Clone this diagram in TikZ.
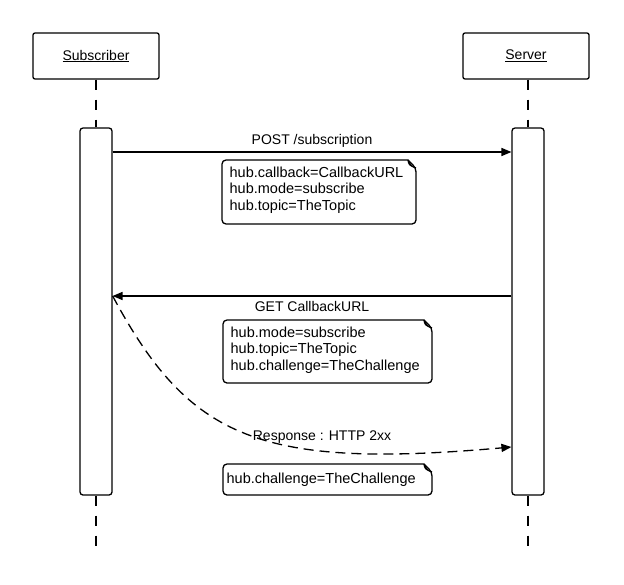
\documentclass[tikz,border=0pt]{standalone}
\usepackage{fontspec}
\setmainfont{Liberation Sans}
\usetikzlibrary{arrows,calc}
\tikzset{
  every path/.style={line width=1.3pt},
  actor/.style={draw,rounded corners=2pt,minimum width=126pt,minimum height=46pt,font=\fontsize{14}{16}\selectfont},
  bar/.style={draw,rounded corners=3pt,minimum width=32pt,minimum height=367pt},
  life/.style={dash pattern=on 10pt off 10pt},
  msg/.style={-triangle 45},
  txt/.style={font=\fontsize{14}{16}\selectfont},
  notetxt/.style={font=\fontsize{14.5}{16.5}\selectfont,align=left,anchor=north west,inner sep=0pt}
}
\newcommand{\notebox}[4]{% x1,y1,x2,y2
  \draw[rounded corners=4pt] (#1,#2) -- (#1,#4) -- (#3,#4) -- (#3,#2+8) [sharp corners] -- (#3-8,#2) [rounded corners=4pt] -- cycle;
  \filldraw[fill=gray!40] (#3-8,#2) .. controls (#3-7,#2+5) .. (#3,#2+8) .. controls (#3-5,#2+6) .. (#3-8,#2);
}
\begin{document}
\begin{tikzpicture}[x=1pt,y=-1pt]
\useasboundingbox (0,0) rectangle (624,584);
\node[actor] (sub) at (96,56) {\underline{Subscriber}};
\node[actor] (srv) at (526,56) {\underline{Server}};
\node[bar] (subbar) at (96,311.5) {};
\node[bar] (srvbar) at (528,311.5) {};
\coordinate (subend) at (96,550);
\coordinate (srvend) at (528,550);
\draw[life] (sub.south) -- (subbar.north);
\draw[life] (srv.south -| srvbar.north) -- (srvbar.north);
\draw[life] (subbar.south) -- (subend);
\draw[life] (srvbar.south) -- (srvend);
% messages
\draw[msg] (subbar.east |- 0,152) -- (srvbar.west |- 0,152) node[txt,midway,above=1pt] {POST /subscription};
\draw[msg] (srvbar.west |- 0,296) -- (subbar.east |- 0,296) node[txt,midway,below=1pt] {GET CallbackURL};
\draw[msg,dash pattern=on 10pt off 6pt] (subbar.east |- 0,296) .. controls (190,440) and (260,470) .. (srvbar.west |- 0,447);
\node[txt] (resp) at (322,437) {Response : HTTP 2xx};
% notes
\notebox{222}{160}{416}{224}
\node[notetxt] (n1) at (229,166) {hub.callback=CallbackURL\\hub.mode=subscribe\\hub.topic=TheTopic};
\notebox{223}{320}{432}{383}
\node[notetxt] (n2) at (230,326) {hub.mode=subscribe\\hub.topic=TheTopic\\hub.challenge=TheChallenge};
\notebox{223}{464}{432}{495}
\node[notetxt,anchor=west] (n3) at (226,479.5) {hub.challenge=TheChallenge};
\end{tikzpicture}
\end{document}
